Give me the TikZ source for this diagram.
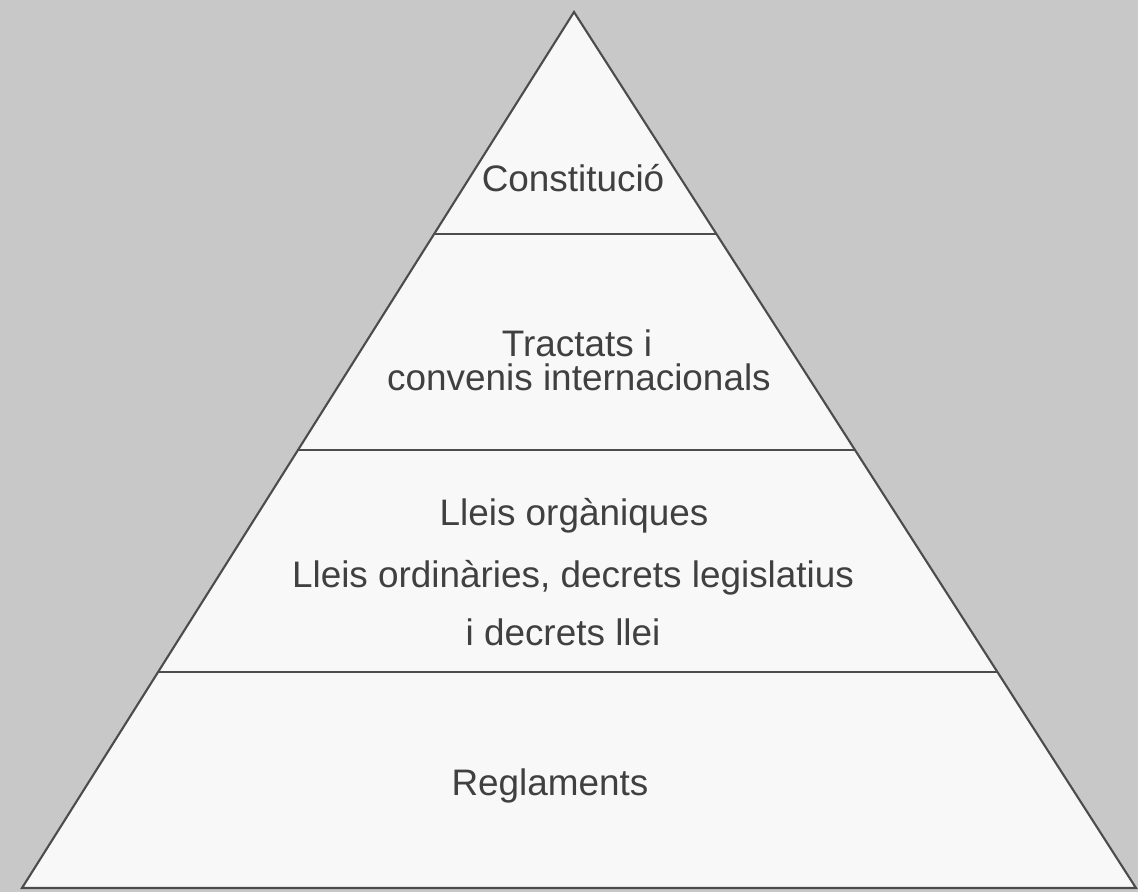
\documentclass[tikz,border=0pt]{standalone}
\usepackage{fontspec}
\setmainfont{Liberation Sans}
\usetikzlibrary{calc}
\definecolor{bggrey}{HTML}{C8C8C8}
\definecolor{pyrfill}{HTML}{F8F8F8}
\definecolor{pyrline}{HTML}{4C4C4C}
\definecolor{txtgrey}{HTML}{404040}
\tikzset{
	level/.style={font=\fontsize{21}{25}\selectfont, text=txtgrey, align=center, inner sep=0},
	edge/.style={draw=pyrline, line width=1.2pt, line join=miter}
}
\begin{document}
\begin{tikzpicture}[x=0.02cm, y=-0.02cm]
		\fill[bggrey] (0,0) rectangle (1138,892);
		\useasboundingbox (0,0) rectangle (1138,892);
		\coordinate (apex) at (574,12);
		\coordinate (bl) at (22,888);
		\coordinate (br) at (1136,888);
		% pyramid
		\filldraw[edge, fill=pyrfill] (apex) -- (bl) -- (br) -- cycle;
		% steps
		\draw[edge] ($(apex)!0.2534!(bl)$) -- ($(apex)!0.2534!(br)$);
		\draw[edge] ($(apex)!0.5!(bl)$) -- ($(apex)!0.5!(br)$);
		\draw[edge] ($(apex)!0.7534!(bl)$) -- ($(apex)!0.7534!(br)$);
		% labels
		\node (constitucio) at (573,178) [level] {Constitució};
		\node (tractats) at (577,343) [level] {Tractats i};
		\node (convenis) at (579,377) [level] {convenis internacionals};
		\node (organiques) at (574,516) [level] {Lleis orgàniques};
		\node (ordinaries) at (573,578) [level] {Lleis ordinàries, decrets legislatius};
		\node (decrets) at (563,632) [level] {i decrets llei};
		\node (reglaments) at (550,786) [level] {Reglaments};
	\end{tikzpicture}
\end{document}
